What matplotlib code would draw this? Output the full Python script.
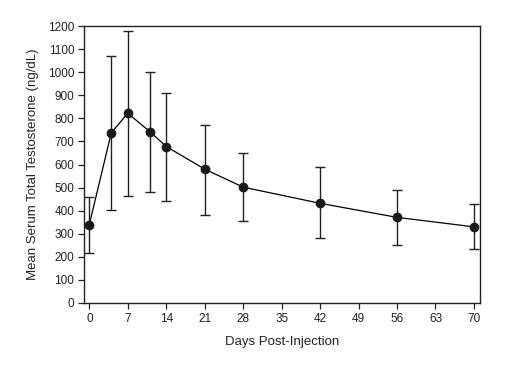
import matplotlib
matplotlib.use("Agg")
import matplotlib.pyplot as plt

plt.rcParams['font.family'] = ['Liberation Sans', 'DejaVu Sans']

# data
days = [0, 4, 7, 11, 14, 21, 28, 42, 56, 70]
mean_t = [340, 738, 822, 743, 678, 580, 502, 432, 371, 330]
err_lo = [215, 405, 465, 482, 443, 383, 357, 281, 250, 232]
err_hi = [460, 1070, 1180, 1003, 908, 773, 650, 588, 489, 427]

yerr = [[m - lo for m, lo in zip(mean_t, err_lo)],
        [hi - m for m, hi in zip(mean_t, err_hi)]]

fig = plt.figure(figsize=(5.26, 3.67), dpi=100)
ax = fig.add_axes([0.1597, 0.1744, 0.913 - 0.1597, 0.929 - 0.1744])

ax.errorbar(days, mean_t, yerr=yerr, color='black', ecolor='#222222',
            elinewidth=1.0, capsize=3.5, capthick=1.0, linewidth=0.9,
            marker='o', markersize=6, markerfacecolor='#1a1a1a',
            markeredgecolor='#1a1a1a')

ax.set_xlim(-0.97, 71.15)
ax.set_ylim(0, 1200)
ax.set_xticks(range(0, 71, 7))
ax.set_yticks(range(0, 1201, 100))
ax.tick_params(direction='out', length=4, width=0.9, labelsize=8.5,
               colors='#222222', pad=3)
for s in ax.spines.values():
    s.set_linewidth(1.0)
    s.set_color('#222222')

ax.set_xlabel('Days Post-Injection', fontsize=9.5, color='#222222')
ax.set_ylabel('Mean Serum Total Testosterone (ng/dL)', fontsize=9.5,
              color='#222222')
ax.xaxis.set_label_coords(0.5, -0.141)
ax.yaxis.set_label_coords(-0.129, 0.5)
ax.xaxis.label.set_va('center')
ax.yaxis.label.set_va('center')

fig.savefig('out.png', dpi=100)
